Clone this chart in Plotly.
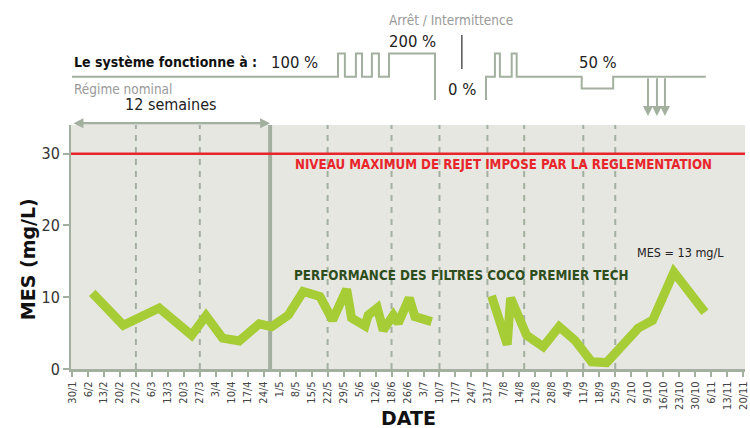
import plotly.graph_objects as go

# ---------------- data ----------------
tick_labels = ["30/1", "6/2", "13/2", "20/2", "27/2", "6/3", "13/3", "20/3", "27/3", "3/4",
               "10/4", "17/4", "24/4", "1/5", "8/5", "15/5", "22/5", "29/5", "5/6", "12/6",
               "18/6", "26/6", "3/7", "10/7", "17/7", "24/7", "31/7", "7/8", "14/8", "21/8",
               "28/8", "4/9", "11/9", "18/9", "25/9", "2/10", "9/10", "16/10", "23/10", "30/10",
               "6/11", "13/11", "20/11"]
week_index = list(range(len(tick_labels)))

# MES measurements (x = position in weeks since 30/1, y = mg/L)
mes_weeks_1 = [1.27, 3.21, 5.46, 7.49, 8.39, 9.43, 10.47, 11.72, 12.50, 13.54, 14.47, 15.52,
               16.31, 17.19, 17.50, 18.34, 18.54, 19.11, 19.48, 20.11, 20.42, 21.11, 21.46,
               22.09, 22.51]
mes_values_1 = [10.6, 6.1, 8.5, 4.7, 7.4, 4.3, 3.9, 6.3, 5.9, 7.5, 10.8, 10.1,
                6.8, 11.1, 7.1, 6.0, 7.5, 8.5, 5.4, 7.5, 6.4, 9.9, 7.3,
                6.8, 6.6]
mes_weeks_2 = [26.26, 27.24, 27.45, 28.45, 29.49, 30.49, 31.48, 32.52, 33.46, 35.44, 36.34,
               37.67, 39.61]
mes_values_2 = [10.2, 3.4, 9.9, 4.7, 3.1, 5.9, 4.0, 1.0, 0.9, 5.7, 6.8, 13.5, 7.9]

regulation_limit = 30

# operating regime (% of nominal) schematic
regime_weeks_1 = [0, 16.65, 17.08, 17.77, 18.15, 18.77, 19.21, 19.84, 22.72]
regime_level_1 = [100, 200, 100, 200, 100, 200, 100, 200, 0]
regime_weeks_2 = [25.91, 25.91, 26.47, 26.78, 27.52, 27.83, 31.90, 33.87, 39.67]
regime_level_2 = [0, 100, 200, 100, 200, 100, 50, 100, 100]
arrow_weeks = [36.05, 36.61, 37.11]

dashed_weeks = [4, 8, 16, 20, 23, 26, 28.3, 32, 34]
phase_change_week = 12.4
nominal_period = [0, 12.4]

# ---------------- style ----------------
NARROW = "Liberation Sans Narrow, DejaVu Sans Condensed, Arial Narrow, sans-serif"
GRID = "#a3b0a0"
LINE_GREEN = "#a6cc36"
BG = "#e7e7e2"

fig = go.Figure()

fig.add_trace(go.Scatter(
    x=mes_weeks_1 + [None] + mes_weeks_2,
    y=mes_values_1 + [None] + mes_values_2,
    mode="lines", line=dict(color=LINE_GREEN, width=9), hoverinfo="skip",
    connectgaps=False, xaxis="x", yaxis="y"))

fig.add_trace(go.Scatter(
    x=regime_weeks_1 + [None] + regime_weeks_2,
    y=regime_level_1 + [None] + regime_level_2,
    mode="lines", line=dict(color=GRID, width=2, shape="hv"), hoverinfo="skip",
    connectgaps=False, xaxis="x", yaxis="y2"))

shapes = []
# gray plotting background (main chart only)
shapes.append(dict(type="rect", xref="paper", x0=0, x1=1, yref="y domain", y0=0, y1=1,
                   fillcolor=BG, line=dict(width=0), layer="below"))
for w in dashed_weeks:
    shapes.append(dict(type="line", xref="x", x0=w, x1=w, yref="y domain", y0=0, y1=1,
                       line=dict(color=GRID, width=2, dash="6px,6px"), layer="below"))
shapes.append(dict(type="line", xref="x", x0=phase_change_week, x1=phase_change_week,
                   yref="y domain", y0=0, y1=1, line=dict(color=GRID, width=4), layer="below"))
shapes.append(dict(type="line", xref="paper", x0=0, x1=1, yref="y", y0=regulation_limit,
                   y1=regulation_limit, line=dict(color="#e8252b", width=2.5)))
# Arrêt / Intermittence marker
shapes.append(dict(type="line", xref="x", x0=24.4, x1=24.4, yref="y2", y0=133, y1=279,
                   line=dict(color="#555555", width=1.5)))

annotations = []
def txt(text, x, y, size, color="#111111", xanchor="left", bold=False, ref="y2"):
    annotations.append(dict(text=("<b>%s</b>" % text) if bold else text, x=x, y=y,
                            xref="x", yref=ref, showarrow=False, xanchor=xanchor,
                            yanchor="middle", font=dict(family=NARROW, size=size, color=color)))

txt("Le système fonctionne à :", 0, 163, 14, "#111111", bold=True)
txt("100 %", 12.35, 163, 16.5, "#222222")
txt("Régime nominal", 0, 46, 13.5, "#9a9a9a")
txt("12 semaines", 6.2, -20, 16, "#222222", xanchor="center")
txt("200 %", 19.7, 249, 16.5, "#222222")
txt("Arrêt / Intermittence", 19.7, 343, 13.5, "#9a9a9a")
txt("0 %", 23.4, 47, 16.5, "#222222")
txt("50 %", 31.6, 163, 16.5, "#222222")

txt("NIVEAU MAXIMUM DE REJET IMPOSE PAR LA REGLEMENTATION", 27.03, 28.45, 13.2,
    "#e8252b", xanchor="center", bold=True, ref="y")
txt("PERFORMANCE DES FILTRES COCO PREMIER TECH", 13.75, 12.97, 13.3, "#2e4d1c",
    bold=True, ref="y")
txt("MES = 13 mg/L", 38.1, 16.2, 12.5, "#222222", xanchor="center", ref="y")

# 12 semaines double arrow
annotations.append(dict(x=nominal_period[1], y=-99, ax=nominal_period[0], ay=-99,
                        xref="x", yref="y2", axref="x", ayref="y2", text="", showarrow=True,
                        arrowhead=2, arrowside="end+start", arrowwidth=2.5, arrowsize=0.8,
                        arrowcolor=GRID))
for w in arrow_weeks:
    annotations.append(dict(x=w, y=-68, ax=w, ay=100, xref="x", yref="y2", axref="x",
                            ayref="y2", text="", showarrow=True, arrowhead=2, arrowwidth=2,
                            arrowsize=1, arrowcolor=GRID))

# axis titles
annotations.append(dict(text="<b>MES (mg/L)</b>", xref="paper", yref="y domain", x=0, y=0.45,
                        xshift=-43, xanchor="center", yanchor="middle", textangle=-90,
                        showarrow=False,
                        font=dict(family="DejaVu Sans, Arial, sans-serif", size=19, color="#111111")))
annotations.append(dict(text="<b>DATE</b>", xref="paper", yref="paper", x=0.5, y=0,
                        yshift=-49, showarrow=False, yanchor="middle", xanchor="center",
                        font=dict(family="DejaVu Sans, Arial, sans-serif", size=19, color="#111111")))

dom_split = 244 / 369
fig.update_layout(
    width=750, height=428,
    margin=dict(l=71, r=5, t=0, b=59, autoexpand=False),
    paper_bgcolor="white", plot_bgcolor="white",
    showlegend=False,
    xaxis=dict(range=[-0.06, 42.12], tickmode="array", tickvals=week_index, ticktext=tick_labels,
               tickangle=-90, ticks="outside", ticklen=5, tickwidth=1.5, tickcolor=GRID,
               showline=True, linecolor=GRID, linewidth=3, showgrid=False, zeroline=False,
               anchor="y", tickfont=dict(family=NARROW, size=11, color="#444444")),
    yaxis=dict(domain=[0, dom_split], range=[0, 34], tickvals=[0, 10, 20, 30], ticks="outside",
               ticklen=6, tickwidth=2, tickcolor=GRID, showline=True, linecolor=GRID, linewidth=2,
               showgrid=False, zeroline=False,
               tickfont=dict(family=NARROW, size=16, color="#333333")),
    yaxis2=dict(domain=[dom_split, 1], range=[-107, 429], visible=False, anchor="x"),
    shapes=shapes, annotations=annotations,
)

fig.write_html("out.html", config={"displayModeBar": False},
               post_script="document.body.style.margin='0px';")
